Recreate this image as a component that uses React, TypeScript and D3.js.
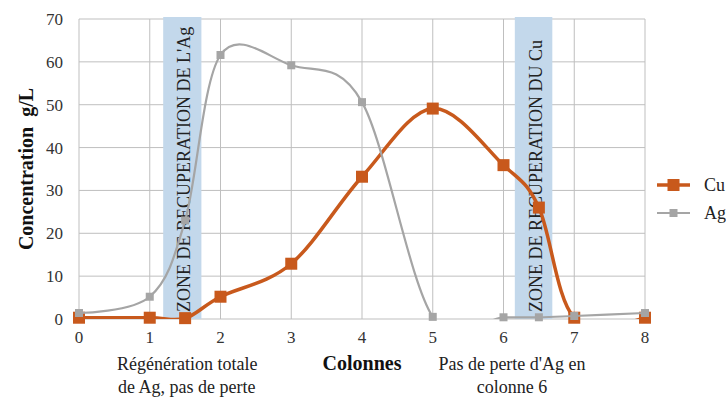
import { useEffect, useRef } from "react"
import * as d3 from "d3"

const columns = [0, 1, 1.5, 2, 3, 4, 5, 6, 6.5, 7, 8]
const cuValues = [0.3, 0.3, 0.2, 5.2, 12.9, 33.2, 49.1, 35.9, 26, 0.3, 0.3]
const agValues = [1.4, 5.2, 23, 61.6, 59.2, 50.6, 0.5, 0.4, 0.4, 0.7, 1.4]
const xTicks = [0, 1, 2, 3, 4, 5, 6, 7, 8]
const yTicks = [0, 10, 20, 30, 40, 50, 60, 70]
const zones = [
  { from: 1.19, to: 1.73, label: "ZONE DE RECUPERATION DE L'Ag" },
  { from: 6.16, to: 6.69, label: "ZONE DE RECUPERATION DU Cu" },
]

const App = () => {
  const svgRef = useRef<SVGSVGElement>(null)

  useEffect(() => {
    const width = 726
    const height = 397
    const margin = { top: 19, right: 81, bottom: 78, left: 79 }
    const w = width - margin.left - margin.right
    const h = height - margin.top - margin.bottom
    const serif = "Liberation Serif"
    const cuColor = "#c8591c"
    const agColor = "#a5a5a5"

    const svg = d3.select(svgRef.current)
    svg.selectAll("*").remove()
    svg.attr("width", width).attr("height", height).style("font-family", serif)

    const x = d3.scaleLinear().domain([0, 8]).range([0, w])
    const y = d3.scaleLinear().domain([0, 70]).range([h, 0])

    const g = svg.append("g").attr("transform", `translate(${margin.left},${margin.top})`)

    g.append("clipPath").attr("id", "plotclip").append("rect").attr("x", -10).attr("y", -4).attr("width", w + 20).attr("height", h + 4)

    // grid
    g.selectAll(".hgrid")
      .data(yTicks)
      .enter()
      .append("line")
      .attr("x1", 0)
      .attr("x2", w)
      .attr("y1", (d) => y(d))
      .attr("y2", (d) => y(d))
      .attr("stroke", "#bfbfbf")
      .attr("stroke-width", 1)
    g.selectAll(".vgrid")
      .data(xTicks)
      .enter()
      .append("line")
      .attr("x1", (d) => x(d))
      .attr("x2", (d) => x(d))
      .attr("y1", 0)
      .attr("y2", h)
      .attr("stroke", "#bfbfbf")
      .attr("stroke-width", 1)

    // zones, text clipped to the band
    zones.forEach((z, i) => {
      g.append("rect")
        .attr("x", x(z.from))
        .attr("y", -2)
        .attr("width", x(z.to) - x(z.from))
        .attr("height", h + 2)
        .attr("fill", "#c3d8eb")
      const cid = `zoneclip${i}`
      g.append("clipPath").attr("id", cid).append("rect").attr("x", x(z.from)).attr("y", -2).attr("width", x(z.to) - x(z.from)).attr("height", h + 2)
      const cx = (x(z.from) + x(z.to)) / 2
      g.append("g")
        .attr("clip-path", `url(#${cid})`)
        .append("text")
        .attr("transform", `translate(${cx + 8},${h - 7}) rotate(-90)`)
        .style("font-size", "18px")
        .attr("fill", "#222")
        .text(z.label)
    })

    // axis tick labels
    g.selectAll(".ylab")
      .data(yTicks)
      .enter()
      .append("text")
      .attr("x", -16)
      .attr("y", (d) => y(d))
      .attr("dy", "0.35em")
      .attr("text-anchor", "end")
      .style("font-size", "17px")
      .attr("fill", "#333")
      .text((d) => d)
    g.selectAll(".xlab")
      .data(xTicks)
      .enter()
      .append("text")
      .attr("x", (d) => x(d))
      .attr("y", h + 24)
      .attr("text-anchor", "middle")
      .style("font-size", "17px")
      .attr("fill", "#333")
      .text((d) => d)

    // series
    const series = [
      { name: "Cu", values: cuValues, color: cuColor, lw: 3.5, ms: 12 },
      { name: "Ag", values: agValues, color: agColor, lw: 2.2, ms: 8 },
    ]
    const line = d3
      .line<number>()
      .x((_, i) => x(columns[i]))
      .y((d) => y(d))
      .curve(d3.curveCardinal.tension(0))

    series.forEach((s) => {
      g.append("path")
        .datum(s.values)
        .attr("d", line)
        .attr("fill", "none")
        .attr("stroke", s.color)
        .attr("stroke-width", s.lw)
        .attr("clip-path", "url(#plotclip)")
      g.selectAll(`.m${s.name}`)
        .data(s.values)
        .enter()
        .append("rect")
        .attr("x", (_, i) => x(columns[i]) - s.ms / 2)
        .attr("y", (d) => y(d) - s.ms / 2)
        .attr("width", s.ms)
        .attr("height", s.ms)
        .attr("fill", s.color)
    })

    // legend
    series.forEach((s, i) => {
      const ly = 185 + i * 28
      svg.append("line").attr("x1", 657).attr("x2", 690).attr("y1", ly).attr("y2", ly).attr("stroke", s.color).attr("stroke-width", s.lw)
      svg.append("rect").attr("x", 673.5 - s.ms / 2).attr("y", ly - s.ms / 2).attr("width", s.ms).attr("height", s.ms).attr("fill", s.color)
      svg.append("text").attr("x", 704).attr("y", ly).attr("dy", "0.35em").style("font-size", "18px").attr("fill", "#222").text(s.name)
    })

    // titles
    svg.append("text")
      .attr("transform", `translate(33,${margin.top + h / 2}) rotate(-90)`)
      .attr("text-anchor", "middle")
      .style("font-weight", "bold")
      .style("font-size", "20px")
      .style("white-space", "pre")
      .attr("fill", "#111")
      .text("Concentration  g/L")
    svg.append("text")
      .attr("x", 362)
      .attr("y", 370)
      .attr("text-anchor", "middle")
      .style("font-weight", "bold")
      .style("font-size", "20px")
      .attr("fill", "#111")
      .text("Colonnes")

    const notes = [
      { x: 117, anchor: "start", lines: ["Régénération totale", "de Ag, pas de perte"] },
      { x: 512, anchor: "middle", lines: ["Pas de perte d'Ag en", "colonne 6"] },
    ]
    notes.forEach((n) => {
      n.lines.forEach((t, i) => {
        svg.append("text")
          .attr("x", n.anchor === "start" && i === 1 ? n.x + 1 : n.x)
          .attr("y", 370 + i * 23)
          .attr("text-anchor", n.anchor)
          .style("font-size", "18px")
          .attr("fill", "#222")
          .text(t)
      })
    })
  }, [])

  return (
    <div style={{ position: "absolute", top: 0, left: 0 }}>
      <svg ref={svgRef} style={{ display: "block" }}></svg>
    </div>
  )
}

export default App
